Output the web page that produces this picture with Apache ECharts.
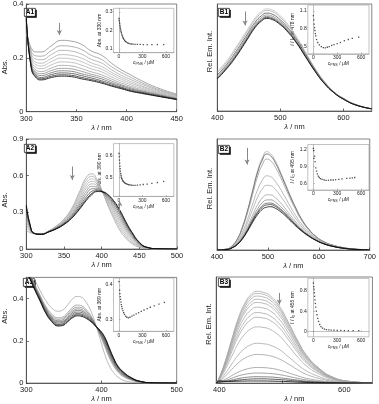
<!DOCTYPE html>
<html><head><meta charset="utf-8">
<script src="https://cdn.jsdelivr.net/npm/echarts@6/dist/echarts.min.js"></script>
<style>html,body{margin:0;padding:0;background:#fff}#c{width:379px;height:404px}</style>
</head><body><div id="c"></div>
<script>
// ---------------- DATA ----------------
// Panel A1 (absorption, wavelength grid in nm)
const W_A1 = [300,305,310,315,325,335,345,355,365,375,385,395,405,415,430,450];
const A1_c01 = [0.30,0.235,0.222,0.222,0.245,0.265,0.262,0.25,0.225,0.21,0.18,0.155,0.135,0.115,0.09,0.065];
const A1_c02 = [0.31,0.224,0.207,0.206,0.227,0.245,0.242,0.231,0.209,0.194,0.167,0.145,0.126,0.108,0.085,0.062];
const A1_c03 = [0.314,0.214,0.195,0.193,0.212,0.228,0.225,0.214,0.194,0.181,0.156,0.135,0.118,0.102,0.081,0.059];
const A1_c04 = [0.32,0.205,0.183,0.18,0.198,0.212,0.209,0.199,0.181,0.168,0.146,0.127,0.111,0.096,0.077,0.057];
const A1_c05 = [0.325,0.198,0.174,0.17,0.186,0.199,0.196,0.186,0.17,0.158,0.138,0.12,0.105,0.092,0.074,0.055];
const A1_c06 = [0.33,0.19,0.164,0.16,0.174,0.185,0.183,0.173,0.159,0.148,0.129,0.113,0.099,0.087,0.071,0.053];
const A1_c07 = [0.335,0.183,0.154,0.149,0.162,0.172,0.17,0.16,0.148,0.137,0.121,0.106,0.093,0.082,0.068,0.051];
const A1_c08 = [0.339,0.177,0.146,0.141,0.153,0.161,0.159,0.15,0.139,0.129,0.114,0.1,0.088,0.078,0.065,0.049];
const A1_c09 = [0.342,0.171,0.14,0.134,0.145,0.152,0.15,0.141,0.132,0.122,0.108,0.096,0.084,0.075,0.063,0.048];
const A1_c10 = [0.345,0.167,0.134,0.127,0.138,0.144,0.142,0.134,0.125,0.115,0.103,0.091,0.08,0.072,0.061,0.047];
const A1_c11 = [0.348,0.163,0.129,0.122,0.132,0.137,0.135,0.127,0.119,0.11,0.098,0.088,0.077,0.07,0.059,0.046];
const A1_c12 = [0.35,0.16,0.125,0.118,0.127,0.132,0.13,0.122,0.115,0.106,0.095,0.085,0.075,0.068,0.058,0.045];
const A1_spectra = [A1_c01,A1_c02,A1_c03,A1_c04,A1_c05,A1_c06,A1_c07,A1_c08,A1_c09,A1_c10,A1_c11,A1_c12];

// Panel A2
const W_A2 = [300,305,310,320,330,340,350,360,370,380,387,394,401,408,416,424,432,440,450,460,475,500];
const A2_c01 = [0.15,0.135,0.125,0.125,0.15,0.19,0.245,0.33,0.46,0.59,0.615,0.565,0.47,0.36,0.25,0.155,0.09,0.045,0.015,0.004,0,0];
const A2_c02 = [0.175,0.143,0.126,0.124,0.149,0.187,0.24,0.32,0.443,0.567,0.595,0.554,0.47,0.37,0.267,0.175,0.106,0.056,0.02,0.005,0,0];
const A2_c03 = [0.2,0.151,0.126,0.124,0.148,0.184,0.234,0.311,0.426,0.544,0.574,0.542,0.47,0.381,0.285,0.195,0.122,0.068,0.025,0.007,0,0];
const A2_c04 = [0.226,0.158,0.127,0.123,0.146,0.181,0.229,0.301,0.41,0.522,0.554,0.531,0.469,0.391,0.302,0.214,0.139,0.079,0.029,0.008,0.001,0];
const A2_c05 = [0.251,0.166,0.127,0.123,0.145,0.178,0.223,0.292,0.393,0.499,0.533,0.519,0.469,0.402,0.32,0.234,0.155,0.091,0.034,0.009,0.001,0];
const A2_c06 = [0.276,0.174,0.128,0.122,0.144,0.175,0.218,0.282,0.376,0.476,0.513,0.508,0.469,0.412,0.337,0.254,0.171,0.102,0.039,0.011,0.001,0];
const A2_c07 = [0.301,0.182,0.129,0.121,0.143,0.172,0.213,0.272,0.359,0.453,0.493,0.497,0.469,0.423,0.354,0.274,0.187,0.113,0.044,0.012,0.001,0];
const A2_c08 = [0.326,0.19,0.129,0.121,0.142,0.169,0.207,0.263,0.342,0.43,0.472,0.485,0.468,0.433,0.372,0.294,0.203,0.125,0.049,0.013,0.002,0];
const A2_c09 = [0.347,0.196,0.13,0.12,0.141,0.167,0.203,0.255,0.328,0.411,0.455,0.476,0.468,0.442,0.386,0.31,0.217,0.134,0.053,0.014,0.002,0];
const A2_c10 = [0.36,0.2,0.13,0.12,0.14,0.165,0.2,0.25,0.32,0.4,0.445,0.47,0.468,0.447,0.395,0.32,0.225,0.14,0.055,0.015,0.002,0];
const A2_spectra = [A2_c01,A2_c02,A2_c03,A2_c04,A2_c05,A2_c06,A2_c07,A2_c08,A2_c09,A2_c10];

// Panel A3
const W_A3 = [300,305,310,318,326,334,342,348,355,362,368,374,380,386,392,398,404,410,416,422,430,440,452,470,500];
const A3_c01 = [0.6,0.55,0.5,0.44,0.39,0.355,0.34,0.345,0.37,0.4,0.41,0.405,0.38,0.34,0.28,0.21,0.14,0.085,0.05,0.028,0.012,0.005,0.001,0,0];
const A3_c02 = [0.564,0.523,0.478,0.418,0.363,0.326,0.309,0.312,0.334,0.36,0.369,0.365,0.346,0.318,0.276,0.228,0.176,0.123,0.082,0.051,0.029,0.014,0.004,0,0];
const A3_c03 = [0.556,0.517,0.473,0.413,0.357,0.319,0.302,0.305,0.326,0.351,0.359,0.356,0.339,0.313,0.275,0.232,0.184,0.132,0.089,0.057,0.033,0.016,0.005,0.001,0];
const A3_c04 = [0.549,0.512,0.468,0.408,0.352,0.313,0.295,0.298,0.319,0.342,0.351,0.347,0.332,0.308,0.274,0.236,0.191,0.139,0.095,0.061,0.036,0.018,0.005,0.001,0];
const A3_c05 = [0.542,0.507,0.464,0.404,0.347,0.308,0.29,0.292,0.312,0.335,0.344,0.34,0.326,0.304,0.273,0.239,0.198,0.146,0.1,0.065,0.039,0.019,0.006,0.001,0];
const A3_c06 = [0.536,0.502,0.46,0.4,0.342,0.303,0.284,0.287,0.306,0.328,0.336,0.333,0.32,0.3,0.272,0.242,0.204,0.153,0.106,0.07,0.042,0.021,0.007,0.001,0];
const A3_c07 = [0.53,0.497,0.456,0.396,0.337,0.298,0.278,0.281,0.3,0.321,0.329,0.326,0.314,0.296,0.271,0.245,0.21,0.16,0.112,0.074,0.045,0.023,0.007,0.001,0];
const A3_c08 = [0.524,0.493,0.453,0.393,0.333,0.293,0.274,0.276,0.294,0.315,0.323,0.32,0.309,0.293,0.271,0.248,0.216,0.166,0.117,0.077,0.048,0.024,0.008,0.001,0];
const A3_c09 = [0.52,0.49,0.45,0.39,0.33,0.29,0.27,0.272,0.29,0.31,0.318,0.315,0.305,0.29,0.27,0.25,0.22,0.17,0.12,0.08,0.05,0.025,0.008,0.001,0];
const A3_spectra = [A3_c01,A3_c02,A3_c03,A3_c04,A3_c05,A3_c06,A3_c07,A3_c08,A3_c09];

// Panel B1 (emission, relative intensity)
const W_B1 = [400,415,430,445,460,470,478,487,497,510,525,540,555,570,585,600,620,645];
const B1_c01 = [0.37,0.47,0.6,0.735,0.87,0.93,0.955,0.945,0.905,0.825,0.7,0.55,0.4,0.275,0.18,0.12,0.06,0.02];
const B1_c02 = [0.358,0.457,0.585,0.72,0.855,0.915,0.94,0.93,0.89,0.812,0.69,0.542,0.395,0.272,0.178,0.118,0.059,0.02];
const B1_c03 = [0.339,0.436,0.56,0.695,0.83,0.89,0.915,0.905,0.867,0.791,0.673,0.53,0.387,0.266,0.176,0.116,0.058,0.02];
const B1_c04 = [0.325,0.421,0.542,0.677,0.812,0.872,0.897,0.887,0.85,0.776,0.661,0.521,0.381,0.262,0.174,0.114,0.057,0.02];
const B1_c05 = [0.314,0.41,0.528,0.663,0.798,0.858,0.883,0.873,0.837,0.765,0.652,0.514,0.376,0.259,0.172,0.112,0.056,0.02];
const B1_c06 = [0.307,0.403,0.519,0.654,0.789,0.849,0.874,0.864,0.829,0.758,0.646,0.51,0.373,0.257,0.171,0.111,0.055,0.02];
const B1_c07 = [0.3,0.395,0.51,0.645,0.78,0.84,0.865,0.855,0.82,0.75,0.64,0.505,0.37,0.255,0.17,0.11,0.055,0.02];
const B1_spectra = [B1_c01,B1_c02,B1_c03,B1_c04,B1_c05,B1_c06,B1_c07];

// Panel B2
const W_B2 = [400,420,430,440,450,460,470,480,490,497,505,515,525,535,545,555,565,580,595,610,630,650,670,700];
const B2_c01 = [0,0.01,0.04,0.1,0.21,0.36,0.54,0.72,0.84,0.886,0.87,0.8,0.7,0.59,0.48,0.38,0.29,0.19,0.12,0.075,0.04,0.02,0.008,0.002];
const B2_c02 = [0,0.01,0.039,0.098,0.205,0.352,0.528,0.703,0.82,0.865,0.85,0.782,0.685,0.578,0.471,0.373,0.285,0.187,0.119,0.074,0.04,0.02,0.008,0.002];
const B2_c03 = [0,0.009,0.037,0.093,0.195,0.335,0.501,0.667,0.777,0.819,0.806,0.743,0.653,0.552,0.451,0.358,0.275,0.181,0.115,0.072,0.039,0.019,0.008,0.002];
const B2_c04 = [0,0.008,0.031,0.078,0.162,0.277,0.414,0.546,0.636,0.668,0.661,0.615,0.546,0.466,0.384,0.308,0.24,0.162,0.105,0.066,0.036,0.018,0.007,0.002];
const B2_c05 = [0,0.007,0.028,0.07,0.143,0.245,0.365,0.478,0.556,0.583,0.58,0.543,0.485,0.418,0.347,0.28,0.22,0.151,0.099,0.063,0.034,0.017,0.007,0.001];
const B2_c06 = [0,0.006,0.024,0.061,0.124,0.212,0.314,0.409,0.474,0.496,0.497,0.469,0.424,0.368,0.309,0.252,0.201,0.139,0.093,0.059,0.032,0.016,0.006,0.001];
const B2_c07 = [0,0.006,0.023,0.056,0.114,0.195,0.287,0.372,0.431,0.45,0.452,0.43,0.391,0.342,0.288,0.236,0.19,0.133,0.09,0.058,0.031,0.016,0.006,0.001];
const B2_c08 = [0,0.005,0.021,0.053,0.108,0.183,0.27,0.348,0.402,0.42,0.423,0.404,0.369,0.325,0.275,0.226,0.183,0.129,0.087,0.056,0.031,0.015,0.006,0.001];
const B2_c09 = [0,0.005,0.021,0.052,0.104,0.178,0.262,0.336,0.389,0.405,0.409,0.392,0.359,0.316,0.269,0.222,0.18,0.128,0.086,0.056,0.03,0.015,0.006,0.001];
const B2_c10 = [0,0.005,0.02,0.05,0.1,0.17,0.25,0.32,0.37,0.385,0.39,0.375,0.345,0.305,0.26,0.215,0.175,0.125,0.085,0.055,0.03,0.015,0.006,0.001];
const B2_spectra = [B2_c01,B2_c02,B2_c03,B2_c04,B2_c05,B2_c06,B2_c07,B2_c08,B2_c09,B2_c10];

// Panel B3
const W_B3 = [395,400,410,420,430,440,450,460,470,480,495,510,525,540,560,580,605,645];
const B3_c01 = [0,0.052,0.216,0.415,0.606,0.744,0.83,0.865,0.856,0.83,0.735,0.58,0.407,0.26,0.138,0.061,0.019,0.002];
const B3_c02 = [0,0.051,0.211,0.406,0.592,0.727,0.811,0.845,0.837,0.811,0.718,0.566,0.397,0.254,0.135,0.059,0.019,0.002];
const B3_c03 = [0,0.049,0.205,0.394,0.574,0.705,0.787,0.82,0.812,0.787,0.697,0.549,0.385,0.246,0.131,0.057,0.018,0.002];
const B3_c04 = [0,0.047,0.198,0.379,0.553,0.679,0.758,0.79,0.782,0.758,0.672,0.529,0.371,0.237,0.126,0.055,0.017,0.002];
const B3_c05 = [0,0.046,0.19,0.365,0.532,0.654,0.73,0.76,0.752,0.73,0.646,0.509,0.357,0.228,0.122,0.053,0.017,0.002];
const B3_c06 = [0,0.043,0.179,0.343,0.501,0.615,0.686,0.715,0.708,0.686,0.608,0.479,0.336,0.215,0.114,0.05,0.016,0.001];
const B3_c07 = [0,0.04,0.166,0.319,0.466,0.572,0.638,0.665,0.658,0.638,0.565,0.446,0.313,0.2,0.106,0.047,0.015,0.001];
const B3_c08 = [0,0.037,0.155,0.298,0.434,0.533,0.595,0.62,0.614,0.595,0.527,0.415,0.291,0.186,0.099,0.043,0.014,0.001];
const B3_c09 = [0,0.032,0.133,0.254,0.371,0.456,0.509,0.53,0.525,0.509,0.451,0.355,0.249,0.159,0.085,0.037,0.012,0.001];
const B3_c10 = [0,0.023,0.094,0.18,0.263,0.323,0.36,0.375,0.371,0.36,0.319,0.251,0.176,0.113,0.06,0.026,0.008,0.001];
const B3_c11 = [0,0.016,0.068,0.13,0.189,0.232,0.259,0.27,0.267,0.259,0.23,0.181,0.127,0.081,0.043,0.019,0.006,0.001];
const B3_c12 = [0,0.009,0.037,0.071,0.103,0.126,0.141,0.147,0.146,0.141,0.125,0.098,0.069,0.044,0.024,0.01,0.003,0];
const B3_c13 = [0,0.006,0.024,0.046,0.067,0.082,0.091,0.095,0.094,0.091,0.081,0.064,0.045,0.029,0.015,0.007,0.002,0];
const B3_c14 = [0,0.004,0.015,0.029,0.042,0.052,0.058,0.06,0.059,0.058,0.051,0.04,0.028,0.018,0.01,0.004,0.001,0];
const B3_c15 = [0,0.012,0.016,0.021,0.028,0.034,0.038,0.04,0.04,0.038,0.034,0.027,0.019,0.012,0.006,0.003,0.001,0];
const B3_c16 = [0,0.022,0.017,0.016,0.018,0.019,0.02,0.02,0.02,0.019,0.017,0.014,0.01,0.006,0.003,0.002,0,0];
const B3_spectra = [B3_c01,B3_c02,B3_c03,B3_c04,B3_c05,B3_c06,B3_c07,B3_c08,B3_c09,B3_c10,B3_c11,B3_c12,B3_c13,B3_c14,B3_c15,B3_c16];

// Insets: concentration (µM) vs. signal
const conc_A1 = [0,3,6,9,12,15,18,22,26,30,35,40,47,55,63,72,82,95,110,125,142,160,180,205,235,270,310,360,420,490,570];
const abs330_A1 = [0.265,0.255,0.246,0.237,0.228,0.22,0.212,0.203,0.195,0.188,0.18,0.173,0.165,0.158,0.152,0.146,0.141,0.137,0.133,0.13,0.128,0.127,0.126,0.125,0.125,0.125,0.124,0.124,0.124,0.124,0.124];
const conc_A2 = [0,3,6,9,12,15,18,22,26,30,35,40,47,55,63,72,82,95,110,125,142,160,180,205,235,270,310,360,420,490,570];
const abs390_A2 = [0.61,0.595,0.58,0.566,0.553,0.541,0.53,0.519,0.51,0.503,0.497,0.492,0.487,0.483,0.48,0.477,0.474,0.472,0.47,0.468,0.467,0.466,0.465,0.465,0.466,0.467,0.469,0.471,0.474,0.478,0.483];
const conc_A3 = [0,8,12,16,20,25,30,35,42,50,60,70,85,100,120,140,165,190,220,250,285,320,360,400,450,510,580];
const abs369_A3 = [0.41,0.385,0.375,0.366,0.358,0.35,0.343,0.337,0.331,0.325,0.319,0.314,0.309,0.306,0.304,0.306,0.309,0.312,0.316,0.319,0.323,0.327,0.331,0.335,0.339,0.344,0.349];
const conc_B1 = [0,5,10,15,20,25,30,40,55,75,100,125,150,175,200,230,260,300,340,390,440,490,570];
const rel478_B1 = [1.02,0.95,0.88,0.82,0.77,0.72,0.68,0.62,0.57,0.53,0.5,0.485,0.48,0.49,0.5,0.52,0.535,0.55,0.57,0.6,0.62,0.64,0.66];
const conc_B2 = [0,3,8,15,22,30,40,50,62,75,90,110,135,160,190,220,250,280,320,360,420,460,490,520];
const rel495_B2 = [1.23,1.19,1.05,1.09,0.99,0.88,0.82,0.77,0.73,0.705,0.685,0.67,0.66,0.655,0.655,0.66,0.66,0.665,0.67,0.68,0.69,0.695,0.7,0.705];
const conc_B3 = [0,5,8,12,16,20,25,30,38,46,55,65,80,95,115,140,165,195,225,260,300,345,390,440,500,570];
const rel455_B3 = [0.95,0.88,0.83,0.76,0.69,0.62,0.55,0.48,0.4,0.33,0.26,0.2,0.14,0.1,0.07,0.05,0.04,0.035,0.03,0.028,0.025,0.025,0.022,0.02,0.02,0.02];

// Arrow annotations: [wavelength, from, to]
const arrow_A1 = [[333,0.33,0.285]];
const arrow_A2 = [[361,0.675,0.565],[424,0.29,0.39]];
const arrow_A3 = [];
const arrow_B1 = [[444,0.93,0.80]];
const arrow_B2 = [[459,0.92,0.77]];
const arrow_B3 = [[496,0.85,0.74]];

// Tick labels
const ticks_A1_x = [300,350,400,450], ticks_A1_y = [0,0.2,0.4];
const ticks_A2_x = [300,350,400,450,500], ticks_A2_y = [0,0.3,0.6,0.9];
const ticks_A3_x = [300,400,500], ticks_A3_y = [0,0.2,0.4];
const ticks_B1_x = [400,500,600];
const ticks_B2_x = [400,500,600,700];
const ticks_B3_x = [400,600];
const ticks_inset_x = [0,300,600];
const ticks_A1i_y = [0.1,0.2,0.3], ticks_A2i_y = [0.5,0.6], ticks_A3i_y = [0.3,0.4];
const ticks_B1i_y = [0.5,0.8,1.1], ticks_B2i_y = [0.6,0.9,1.2], ticks_B3i_y = [0,0.4,0.8];

// ---------------- BUILD ----------------
const FONT = 'Liberation Sans, Arial, sans-serif';
const TXT = '#222';
const opt = {animation:false, textStyle:{fontFamily:FONT}, grid:[], xAxis:[], yAxis:[], series:[], graphic:[]};
const lamRich = {i:{fontStyle:'italic',fontSize:7.5,color:TXT,fontFamily:FONT}, n:{fontSize:7.5,color:TXT,fontFamily:FONT}};
const smallRich = {
  i:{fontStyle:'italic',fontSize:5,color:TXT,fontFamily:FONT},
  n:{fontSize:5,color:TXT,fontFamily:FONT},
  s:{fontSize:3.6,color:TXT,fontFamily:FONT,padding:[3,0,0,0]}
};

function addPanel(p){
  const gi = opt.grid.length;
  opt.grid.push({left:p.box[0],top:p.box[1],width:p.box[2],height:p.box[3],show:true,borderColor:'#666',borderWidth:0.8});
  opt.xAxis.push({gridIndex:gi,type:'value',min:p.xr[0],max:p.xr[1],
    name:'{i|λ}{n| / nm}',nameLocation:'middle',nameGap:p.xNameGap,nameTextStyle:{rich:lamRich},
    axisLine:{lineStyle:{color:'#444',width:0.8}},
    axisTick:{inside:true,length:2.5,lineStyle:{color:'#444',width:0.8},customValues:p.xTicks||p.xt},
    axisLabel:{customValues:p.xt,fontSize:7.5,color:TXT,margin:3,fontFamily:FONT},
    splitLine:{show:false}});
  const hasY = !!p.yt;
  opt.yAxis.push({gridIndex:gi,type:'value',min:p.yr[0],max:p.yr[1],
    name:p.yName,nameLocation:'middle',nameGap:p.yNameGap,
    nameTextStyle:{fontSize:7.5,color:TXT,fontFamily:FONT,padding:p.yNamePad},
    axisLine:{lineStyle:{color:'#444',width:0.8}},
    axisTick:{show:hasY,inside:true,length:2.5,lineStyle:{color:'#444',width:0.8},customValues:p.yt||[]},
    axisLabel:{show:hasY,customValues:p.yt||[],fontSize:7.5,color:TXT,margin:3,fontFamily:FONT},
    splitLine:{show:false}});
  p.curves.forEach((cv,k)=>{
    opt.series.push({type:'line',xAxisIndex:gi,yAxisIndex:gi,data:p.w.map((w,i)=>[w,cv[i]]),
      showSymbol:false,symbol:'none',smooth:0.5,silent:true,
      lineStyle:{width:0.8,color:p.colors[k]}});
  });
  if (p.arrows.length){
    opt.series.push({type:'line',xAxisIndex:gi,yAxisIndex:gi,data:[],silent:true,
      markLine:{silent:true,animation:false,symbol:['none','arrow'],symbolSize:[4,5],label:{show:false},
        lineStyle:{color:'#888',width:1,type:'solid'},
        data:p.arrows.map(a=>[{coord:[a[0],a[1]]},{coord:[a[0],a[2]]}])}});
  }
  // boxed panel label with drop shadow
  opt.graphic.push({type:'group',left:p.lab[0],top:p.lab[1],z:100,children:[
    {type:'rect',shape:{x:1.4,y:1.4,width:11,height:8},style:{fill:'#000'}},
    {type:'rect',shape:{x:0,y:0,width:11,height:8},style:{fill:'#fff',stroke:'#000',lineWidth:0.7}},
    {type:'text',x:5.5,y:4.3,style:{text:p.label,fill:'#000',font:'bold 6.5px "Liberation Sans", Arial, sans-serif',align:'center',verticalAlign:'middle'}}
  ]});
}

function addInset(p){
  const gi = opt.grid.length;
  opt.grid.push({left:p.box[0],top:p.box[1],width:p.box[2],height:p.box[3],show:true,borderColor:'#999',borderWidth:0.6});
  opt.xAxis.push({gridIndex:gi,type:'value',min:-70,max:700,
    name:'{i|c}{s|PNS}{n| / μM}',nameLocation:'middle',nameGap:6,nameTextStyle:{rich:smallRich},
    axisLine:{lineStyle:{color:'#999',width:0.6}},
    axisTick:{inside:true,length:1.5,lineStyle:{color:'#999',width:0.6},customValues:ticks_inset_x},
    axisLabel:{customValues:ticks_inset_x,fontSize:5,color:TXT,margin:1.5,fontFamily:FONT},
    splitLine:{show:false}});
  opt.yAxis.push({gridIndex:gi,type:'value',min:p.yr[0],max:p.yr[1],
    name:p.yName,nameLocation:'middle',nameGap:p.yNameGap,nameTextStyle:{rich:smallRich,fontSize:5,color:TXT},
    axisLine:{lineStyle:{color:'#999',width:0.6}},
    axisTick:{inside:true,length:1.5,lineStyle:{color:'#999',width:0.6},customValues:p.yt},
    axisLabel:{customValues:p.yt,fontSize:5,color:TXT,margin:1,fontFamily:FONT},
    splitLine:{show:false}});
  opt.series.push({type:'scatter',xAxisIndex:gi,yAxisIndex:gi,data:p.x.map((c,i)=>[c,p.y[i]]),
    symbol:'rect',symbolSize:1.3,silent:true,itemStyle:{color:'#222'}});
}

const gA1 = ['#8c8c8c','#9a9a9a','#a6a6a6','#b0b0b0','#b5b5b5','#b0b0b0','#a0a0a0','#8a8a8a','#6e6e6e','#4a4a4a','#2a2a2a','#000000'];
const gA2 = ['#a0a0a0','#b0b0b0','#b8b8b8','#b3b3b3','#a8a8a8','#939393','#747474','#484848','#222222','#000000'];
const gA3 = ['#a8a8a8','#9a9a9a','#8a8a8a','#7a7a7a','#666666','#555555','#3c3c3c','#222222','#000000'];
const gB1 = ['#c4c4c4','#a8a8a8','#505050','#8a8a8a','#777777','#444444','#000000'];
const gB2 = ['#b0b0b0','#555555','#999999','#a8a8a8','#a8a8a8','#a0a0a0','#888888','#555555','#333333','#000000'];
const gB3 = ['#a8a8a8','#a8a8a8','#a8a8a8','#a8a8a8','#a8a8a8','#a8a8a8','#a8a8a8','#a8a8a8','#a8a8a8','#a8a8a8','#a0a0a0','#999999','#888888','#666666','#333333','#000000'];

addPanel({label:'A1',lab:[24,8],box:[22.7,4,154,107.7],xr:[300,450],xt:ticks_A1_x,yr:[0,0.4],yt:ticks_A1_y,
  yName:'Abs.',yNameGap:4,yNamePad:[0,18,0,0],xNameGap:9,w:W_A1,curves:A1_spectra,colors:gA1,arrows:arrow_A1});
addPanel({label:'A2',lab:[24,144],box:[23,139,154,110],xr:[300,500],xt:ticks_A2_x,yr:[0,0.9],yt:ticks_A2_y,
  yName:'Abs.',yNameGap:4,yNamePad:[0,12,0,0],xNameGap:9,w:W_A2,curves:A2_spectra,colors:gA2,arrows:arrow_A2});
addPanel({label:'A3',lab:[23,278],box:[22.7,277.4,154,109.3],xr:[300,500],xt:ticks_A3_x,yr:[0,0.5],yt:ticks_A3_y,
  yName:'Abs.',yNameGap:4,yNamePad:[0,0,0,28],xNameGap:9,w:W_A3,curves:A3_spectra,colors:gA3,arrows:arrow_A3});
addPanel({label:'B1',lab:[218,8],box:[217.3,4,154.5,107],xr:[400,645],xt:ticks_B1_x,yr:[0,1],
  yName:'Rel. Em. Int.',yNameGap:3,yNamePad:[0,0,0,12],xNameGap:9,w:W_B1,curves:B1_spectra,colors:gB1,arrows:arrow_B1});
addPanel({label:'B2',lab:[218,145],box:[217,139,154.5,111],xr:[400,700],xt:ticks_B2_x,yr:[0,1],
  yName:'Rel. Em. Int.',yNameGap:3,yNamePad:[0,0,0,12],xNameGap:9,w:W_B2,curves:B2_spectra,colors:gB2,arrows:arrow_B2});
addPanel({label:'B3',lab:[218,278],box:[216.2,277,156.25,109],xr:[395,645],xt:ticks_B3_x,xTicks:[400,500,600],yr:[0,1],
  yName:'Rel. Em. Int.',yNameGap:3,yNamePad:[0,0,0,12],xNameGap:3,w:W_B3,curves:B3_spectra,colors:gB3,arrows:arrow_B3});

addInset({box:[113.5,8.3,60.3,44.4],yr:[0.08,0.32],yt:ticks_A1i_y,yName:'Abs. at 330 nm',yNameGap:10.5,x:conc_A1,y:abs330_A1});
addInset({box:[113.5,143.6,60.3,52.8],yr:[0.415,0.655],yt:ticks_A2i_y,yName:'Abs. at 390 nm',yNameGap:10.5,x:conc_A2,y:abs390_A2});
addInset({box:[113.5,278.1,60.3,53.2],yr:[0.265,0.42],yt:ticks_A3i_y,yName:'Abs. at 369 nm',yNameGap:10.5,x:conc_A3,y:abs369_A3});
addInset({box:[307.8,5,61.2,48.8],yr:[0.38,1.2],yt:ticks_B1i_y,yName:'{i|I}{n| / }{i|I}{s|0}{n| at 478 nm}',yNameGap:10.5,x:conc_B1,y:rel478_B1});
addInset({box:[307.8,144.5,61.2,45.5],yr:[0.48,1.3],yt:ticks_B2i_y,yName:'{i|I}{n| / }{i|I}{s|0}{n| at 495 nm}',yNameGap:10.5,x:conc_B2,y:rel495_B2});
addInset({box:[307.8,278.4,61.2,58.4],yr:[-0.1,1.04],yt:ticks_B3i_y,yName:'{i|I}{n| / }{i|I}{s|0}{n| at 455 nm}',yNameGap:10.5,x:conc_B3,y:rel455_B3});

const chart = echarts.init(document.getElementById('c'), null, {renderer:'canvas'});
chart.setOption(opt);
</script></body></html>
